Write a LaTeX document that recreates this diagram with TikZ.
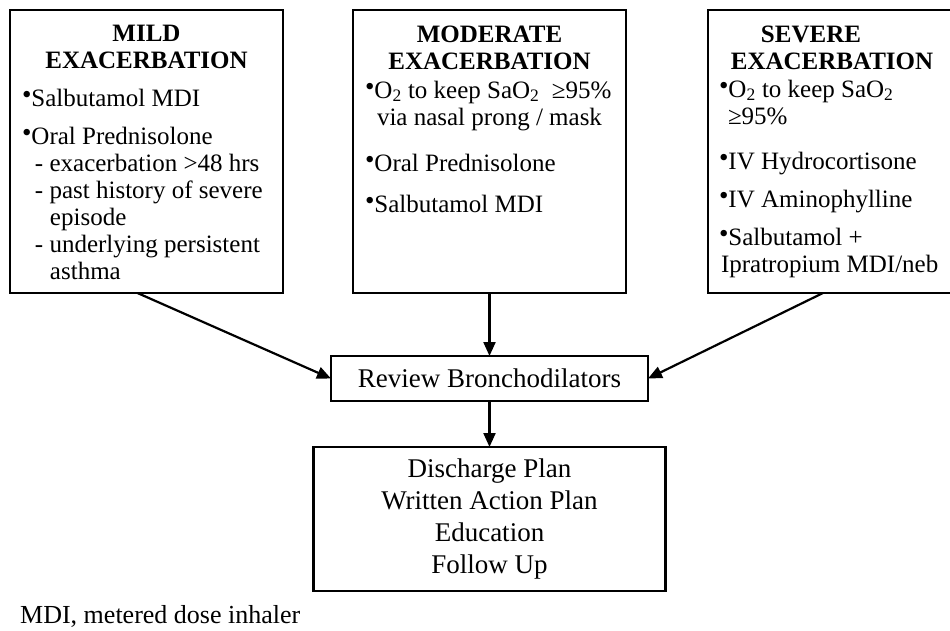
\documentclass[tikz,border=0pt]{standalone}
\usepackage{fontspec}
\setmainfont{Liberation Serif}
\usetikzlibrary{arrows.meta,positioning}
\newcommand\bul{\raisebox{3pt}{\fontsize{27}{27}\selectfont\textbullet}}
\newcommand\headline[1]{\makebox[\linewidth]{\bfseries #1}}
\begin{document}
\begin{tikzpicture}[x=1pt,y=-1pt,
    every node/.style={inner sep=0pt},
    catbox/.style={draw,line width=2.6pt,outer sep=0pt,anchor=north west,minimum height=283pt},
    stepbox/.style={draw,line width=2.6pt,outer sep=0pt,font=\fontsize{27}{32}\selectfont,align=center},
    link/.style={-{Triangle[length=14pt,width=12pt]},line width=2.2pt}]
    \useasboundingbox (0,0) rectangle (950,630);
    \clip (0,0) rectangle (950,630);

    \node[catbox,minimum width=273pt] (mild) at (10,10) {\parbox[c][283pt][t]{249pt}{\fontsize{25}{27}\selectfont\raggedright
        \vspace*{15.5pt}\headline{MILD}\\
        \headline{EXACERBATION}\\[11pt]
        \bul Salbutamol MDI\\[11pt]
        \bul Oral Prednisolone\\
        \hspace*{13pt}- exacerbation >48 hrs\\
        \hspace*{13pt}- past history of severe\\
        \hspace*{28pt}episode\\
        \hspace*{13pt}- underlying persistent\\
        \hspace*{28pt}asthma}};
    \node[catbox,minimum width=273pt] (moderate) at (353,10) {\parbox[c][283pt][t]{249pt}{\fontsize{25}{27}\selectfont\raggedright
        \vspace*{15.5pt}\headline{MODERATE}\\
        \headline{EXACERBATION}\\[2pt]
        \bul O\textsubscript{2} to keep SaO\textsubscript{2}\ \ ≥95\%\\
        \hspace*{12pt}via nasal prong / mask\\[19pt]
        \bul Oral Prednisolone\\[14pt]
        \bul Salbutamol MDI}};
    \node[catbox,minimum width=270pt] (severe) at (708,10) {\parbox[c][283pt][t]{248pt}{\fontsize{25}{27}\selectfont\raggedright
        \vspace*{15.5pt}\makebox[184pt]{\bfseries SEVERE}\\
        \makebox[226pt]{\bfseries EXACERBATION}\\[1pt]
        \bul O\textsubscript{2} to keep SaO\textsubscript{2}\\
        \hspace*{9pt}≥95\%\\[18pt]
        \bul IV Hydrocortisone\\[11pt]
        \bul IV Aminophylline\\[11pt]
        \bul Salbutamol +\\
        \hspace*{2pt}Ipratropium MDI/neb}};

    \node[stepbox,minimum width=317pt,minimum height=45pt] (review) at (489.5,378.5) {Review Bronchodilators};
    \node[stepbox,minimum width=352pt,minimum height=144pt] (plan) at (489.5,519) {Discharge Plan\\Written Action Plan\\Education\\Follow Up};
    \node[anchor=base west,font=\fontsize{26}{30}\selectfont] (note) at (20,623) {MDI, metered dose inhaler};

    \draw[link] ([xshift=-9pt]mild.south) -- (review.west);
    \draw[link] (moderate.south) -- (review.north);
    \draw[link] ([xshift=-20pt]severe.south) -- (review.east);
    \draw[link] (review.south) -- (plan.north);
\end{tikzpicture}
\end{document}
